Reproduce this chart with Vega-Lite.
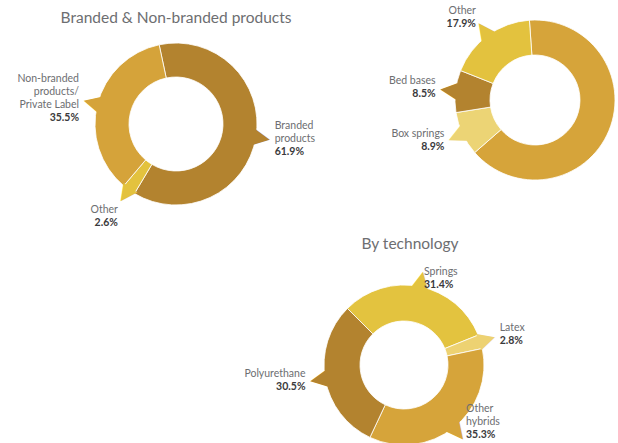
{
  "$schema": "https://vega.github.io/schema/vega-lite/v6.json",
  "padding": 0,
  "background": "white",
  "config": {
    "view": {"stroke": null},
    "font": "Lato",
    "title": {"font": "Lato", "fontSize": 15.5, "fontWeight": "normal", "color": "#6d6e71", "anchor": "middle", "frame": "group"}
  },
  "columns": 3,
  "spacing": 0,
  "bounds": "flush",
  "align": "each",
  "resolve": {"scale": {"color": "independent", "theta": "independent"}},
  "concat": [
    {"width": 1, "height": 33, "data": {"values": [{"a": 1}]}, "mark": "text", "encoding": {"text": {"value": ""}}},
    {"width": 1, "height": 1, "data": {"values": [{"a": 1}]}, "mark": "text", "encoding": {"text": {"value": ""}}},
    {"width": 1, "height": 1, "data": {"values": [{"a": 1}]}, "mark": "text", "encoding": {"text": {"value": ""}}},

    {
      "width": 352,
      "height": 170,
      "title": {"text": "Branded & Non-branded products", "offset": 13},
      "data": {"values": [
        {"name": "Branded\nproducts", "pct": 61.9},
        {"name": "Other", "pct": 2.6},
        {"name": "Non-branded\nproducts/\nPrivate Label", "pct": 35.5}
      ]},
      "transform": [
        {"window": [{"op": "sum", "field": "pct", "as": "t1"}], "frame": [null, 0]},
        {"calculate": "datum.t1 - datum.pct", "as": "t0"},
        {"calculate": "datum.t1 - datum.pct / 2", "as": "mid"},
        {"calculate": "-12 + 3.6 * datum.mid", "as": "midDeg"},
        {"calculate": "datum.midDeg * PI / 180", "as": "rad"},
        {"calculate": "length(split(datum.name, '\\n'))", "as": "n"},
        {"calculate": "cos(datum.rad) > 0.9 ? (datum.n + 1) * 6.5 : (cos(datum.rad) < -0.6 ? (sin(datum.rad) >= 0 ? -(datum.n + 1) * 6.5 : (datum.n + 1) * 6.5) : 0)", "as": "vOff"},
        {"calculate": "datum.vOff - (datum.n + 1) * 6.5", "as": "gdy"},
        {"calculate": "datum.gdy + datum.n * 13", "as": "pdy"},
        {"calculate": "format(datum.pct, '.1f') + '%'", "as": "pctText"}
      ],
      "encoding": {
        "color": {"field": "name", "type": "nominal", "legend": null,
          "scale": {"domain": ["Branded\nproducts", "Other", "Non-branded\nproducts/\nPrivate Label"], "range": ["#B3832F", "#E3C23E", "#D5A33A"]}}
      },
      "layer": [
        {"mark": {"type": "arc", "outerRadius": 81, "innerRadius": 47, "stroke": "#ffffff", "strokeWidth": 0.8},
         "encoding": {
           "theta": {"field": "t0", "type": "quantitative", "stack": null, "scale": {"domain": [0, 100], "range": [-0.20944, 6.07375]}},
           "theta2": {"field": "t1"}
         }},
        {"mark": {"type": "text", "radius": 88, "fontSize": 22, "font": "DejaVu Sans", "align": "center", "baseline": "middle"},
         "encoding": {
           "theta": {"field": "mid", "type": "quantitative", "stack": null, "scale": {"domain": [0, 100], "range": [-0.20944, 6.07375]}},
           "angle": {"field": "midDeg", "type": "quantitative", "scale": null},
           "text": {"value": "▲"}
         }},
        {"mark": {"type": "text", "radius": 100, "fontSize": 10.5, "lineHeight": 13, "lineBreak": "\n", "baseline": "top",
           "align": {"expr": "sin(datum.rad) >= 0 ? 'left' : 'right'"},
           "dy": {"expr": "datum.gdy"}},
         "encoding": {
           "theta": {"field": "mid", "type": "quantitative", "stack": null, "scale": {"domain": [0, 100], "range": [-0.20944, 6.07375]}},
           "color": {"value": "#6d6e71"},
           "text": {"field": "name", "type": "nominal"}
         }},
        {"mark": {"type": "text", "radius": 100, "fontSize": 10.5, "fontWeight": "bold", "baseline": "top",
           "align": {"expr": "sin(datum.rad) >= 0 ? 'left' : 'right'"},
           "dy": {"expr": "datum.pdy"}},
         "encoding": {
           "theta": {"field": "mid", "type": "quantitative", "stack": null, "scale": {"domain": [0, 100], "range": [-0.20944, 6.07375]}},
           "color": {"value": "#3a3a3c"},
           "text": {"field": "pctText", "type": "nominal"}
         }}
      ]
    },
    {"width": 1, "height": 1, "data": {"values": [{"a": 1}]}, "mark": "text", "encoding": {"text": {"value": ""}}},
    {
      "width": 158,
      "height": 122,
      "data": {"values": [
        {"name": "Mattresses", "pct": 64.7},
        {"name": "Box springs", "pct": 8.9},
        {"name": "Bed bases", "pct": 8.5},
        {"name": "Other", "pct": 17.9}
      ]},
      "transform": [
        {"window": [{"op": "sum", "field": "pct", "as": "t1"}], "frame": [null, 0]},
        {"calculate": "datum.t1 - datum.pct", "as": "t0"},
        {"calculate": "datum.t1 - datum.pct / 2", "as": "mid"},
        {"calculate": "-4 + 3.6 * datum.mid", "as": "midDeg"},
        {"calculate": "datum.midDeg * PI / 180", "as": "rad"},
        {"calculate": "length(split(datum.name, '\\n'))", "as": "n"},
        {"calculate": "cos(datum.rad) > 0.9 ? (datum.n + 1) * 6.5 : (cos(datum.rad) < -0.6 ? (sin(datum.rad) >= 0 ? -(datum.n + 1) * 6.5 : (datum.n + 1) * 6.5) : 0)", "as": "vOff"},
        {"calculate": "datum.vOff - (datum.n + 1) * 6.5", "as": "gdy"},
        {"calculate": "datum.gdy + datum.n * 13", "as": "pdy"},
        {"calculate": "format(datum.pct, '.1f') + '%'", "as": "pctText"}
      ],
      "encoding": {
        "color": {"field": "name", "type": "nominal", "legend": null,
          "scale": {"domain": ["Mattresses", "Box springs", "Bed bases", "Other"], "range": ["#D6A43A", "#ECD475", "#B3832F", "#E3C23E"]}}
      },
      "layer": [
        {"mark": {"type": "arc", "outerRadius": 80, "innerRadius": 45, "stroke": "#ffffff", "strokeWidth": 0.8},
         "encoding": {
           "theta": {"field": "t0", "type": "quantitative", "stack": null, "scale": {"domain": [0, 100], "range": [-0.069813, 6.213372]}},
           "theta2": {"field": "t1"}
         }},
        {"transform": [{"filter": "datum.name != 'Mattresses'"}],
         "mark": {"type": "text", "radius": 88, "fontSize": 22, "font": "DejaVu Sans", "align": "center", "baseline": "middle"},
         "encoding": {
           "theta": {"field": "mid", "type": "quantitative", "stack": null, "scale": {"domain": [0, 100], "range": [-0.069813, 6.213372]}},
           "angle": {"field": "midDeg", "type": "quantitative", "scale": null},
           "text": {"value": "▲"}
         }},
        {"transform": [{"filter": "datum.name != 'Mattresses'"}],
         "mark": {"type": "text", "radius": 100, "fontSize": 10.5, "lineHeight": 13, "lineBreak": "\n", "baseline": "top",
           "align": {"expr": "sin(datum.rad) >= 0 ? 'left' : 'right'"},
           "dy": {"expr": "datum.gdy"}},
         "encoding": {
           "theta": {"field": "mid", "type": "quantitative", "stack": null, "scale": {"domain": [0, 100], "range": [-0.069813, 6.213372]}},
           "color": {"value": "#6d6e71"},
           "text": {"field": "name", "type": "nominal"}
         }},
        {"transform": [{"filter": "datum.name != 'Mattresses'"}],
         "mark": {"type": "text", "radius": 100, "fontSize": 10.5, "fontWeight": "bold", "baseline": "top",
           "align": {"expr": "sin(datum.rad) >= 0 ? 'left' : 'right'"},
           "dy": {"expr": "datum.pdy"}},
         "encoding": {
           "theta": {"field": "mid", "type": "quantitative", "stack": null, "scale": {"domain": [0, 100], "range": [-0.069813, 6.213372]}},
           "color": {"value": "#3a3a3c"},
           "text": {"field": "pctText", "type": "nominal"}
         }}
      ]
    },

    {"width": 1, "height": 76, "data": {"values": [{"a": 1}]}, "mark": "text", "encoding": {"text": {"value": ""}}},
    {"width": 1, "height": 1, "data": {"values": [{"a": 1}]}, "mark": "text", "encoding": {"text": {"value": ""}}},
    {"width": 1, "height": 1, "data": {"values": [{"a": 1}]}, "mark": "text", "encoding": {"text": {"value": ""}}},

    {"width": 1, "height": 1, "data": {"values": [{"a": 1}]}, "mark": "text", "encoding": {"text": {"value": ""}}},
    {
      "width": 104,
      "height": 160,
      "title": {"text": "By technology", "offset": 14, "dx": 6},
      "data": {"values": [
        {"name": "Springs", "pct": 31.4},
        {"name": "Latex", "pct": 2.8},
        {"name": "Other\nhybrids", "pct": 35.3},
        {"name": "Polyurethane", "pct": 30.5}
      ]},
      "transform": [
        {"window": [{"op": "sum", "field": "pct", "as": "t1"}], "frame": [null, 0]},
        {"calculate": "datum.t1 - datum.pct", "as": "t0"},
        {"calculate": "datum.t1 - datum.pct / 2", "as": "mid"},
        {"calculate": "-45 + 3.6 * datum.mid", "as": "midDeg"},
        {"calculate": "datum.midDeg * PI / 180", "as": "rad"},
        {"calculate": "length(split(datum.name, '\\n'))", "as": "n"},
        {"calculate": "cos(datum.rad) > 0.9 ? (datum.n + 1) * 6.5 : (cos(datum.rad) < -0.6 ? (sin(datum.rad) >= 0 ? -(datum.n + 1) * 6.5 : (datum.n + 1) * 6.5) : 0)", "as": "vOff"},
        {"calculate": "datum.vOff - (datum.n + 1) * 6.5", "as": "gdy"},
        {"calculate": "datum.gdy + datum.n * 13", "as": "pdy"},
        {"calculate": "format(datum.pct, '.1f') + '%'", "as": "pctText"}
      ],
      "encoding": {
        "color": {"field": "name", "type": "nominal", "legend": null,
          "scale": {"domain": ["Springs", "Latex", "Other\nhybrids", "Polyurethane"], "range": ["#E3C33F", "#EDD272", "#D6A43A", "#B3832F"]}}
      },
      "layer": [
        {"mark": {"type": "arc", "outerRadius": 80, "innerRadius": 44, "stroke": "#ffffff", "strokeWidth": 0.8},
         "encoding": {
           "theta": {"field": "t0", "type": "quantitative", "stack": null, "scale": {"domain": [0, 100], "range": [-0.785398, 5.497787]}},
           "theta2": {"field": "t1"}
         }},
        {"mark": {"type": "text", "radius": 88, "fontSize": 22, "font": "DejaVu Sans", "align": "center", "baseline": "middle"},
         "encoding": {
           "theta": {"field": "mid", "type": "quantitative", "stack": null, "scale": {"domain": [0, 100], "range": [-0.785398, 5.497787]}},
           "angle": {"field": "midDeg", "type": "quantitative", "scale": null},
           "text": {"value": "▲"}
         }},
        {"mark": {"type": "text", "radius": 100, "fontSize": 10.5, "lineHeight": 13, "lineBreak": "\n", "baseline": "top",
           "align": {"expr": "sin(datum.rad) >= 0 ? 'left' : 'right'"},
           "dy": {"expr": "datum.gdy"}},
         "encoding": {
           "theta": {"field": "mid", "type": "quantitative", "stack": null, "scale": {"domain": [0, 100], "range": [-0.785398, 5.497787]}},
           "color": {"value": "#6d6e71"},
           "text": {"field": "name", "type": "nominal"}
         }},
        {"mark": {"type": "text", "radius": 100, "fontSize": 10.5, "fontWeight": "bold", "baseline": "top",
           "align": {"expr": "sin(datum.rad) >= 0 ? 'left' : 'right'"},
           "dy": {"expr": "datum.pdy"}},
         "encoding": {
           "theta": {"field": "mid", "type": "quantitative", "stack": null, "scale": {"domain": [0, 100], "range": [-0.785398, 5.497787]}},
           "color": {"value": "#3a3a3c"},
           "text": {"field": "pctText", "type": "nominal"}
         }}
      ]
    },
    {"width": 1, "height": 1, "data": {"values": [{"a": 1}]}, "mark": "text", "encoding": {"text": {"value": ""}}}
  ]
}
